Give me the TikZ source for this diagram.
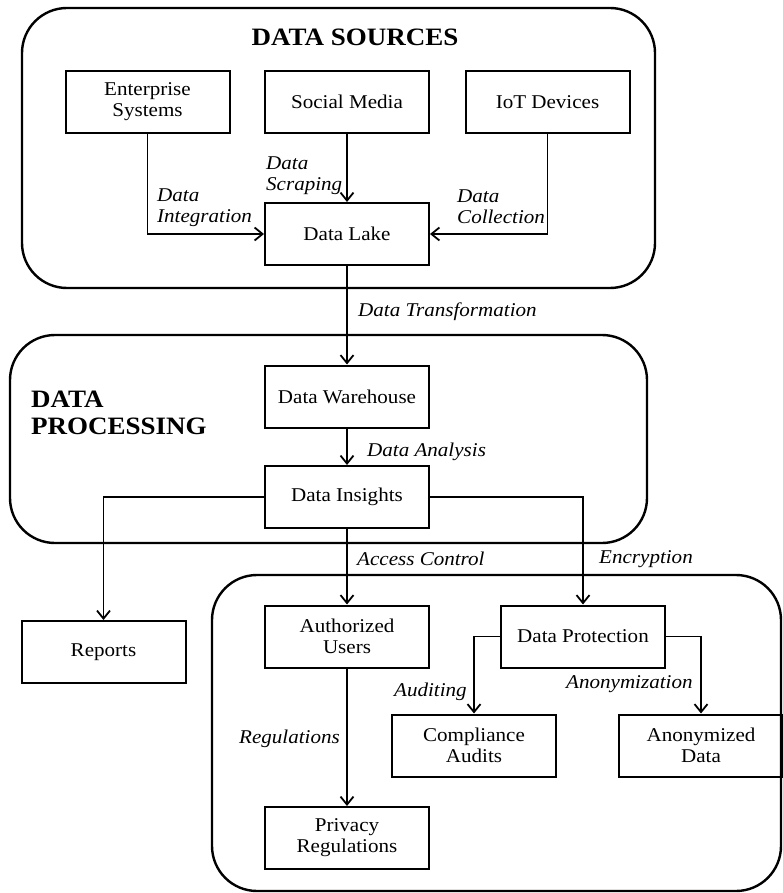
\documentclass[tikz,border=0pt]{standalone}
\usepackage{fontspec}
\setmainfont{Liberation Serif}[FakeStretch=1.08]
\usetikzlibrary{arrows.meta, positioning}
\tikzset{
    every node/.style={inner sep=1pt},
    box/.style={draw, line width=2pt, minimum width=164pt, minimum height=62pt,
        align=center, font=\fontsize{19.5}{21}\selectfont},
    lbl/.style={anchor=west, align=left, font=\fontsize{19.5}{21}\selectfont\itshape},
    ttl/.style={font=\fontsize{25}{27}\selectfont\bfseries, align=left},
    grp/.style={line width=2.4pt, rounded corners=45pt},
    arr/.style={line width=1.8pt, -{Straight Barb[length=8pt, width=13pt, line width=1.8pt]}}
}
\begin{document}
\begin{tikzpicture}[x=1pt, y=-1pt]
                \useasboundingbox (0,0) rectangle (782,893);

                % groups
                \draw[grp] (22,8) rectangle (655,288);
                \draw[grp] (10,335) rectangle (647,543);
                \draw[grp] (212,575) rectangle (781,891);

                \node[ttl] (tsrc) at (355,37) {DATA SOURCES};
                \node[ttl, anchor=west] (tproc) at (30,413) {DATA\\PROCESSING};

                \node[box] (ent) at (147.5,102) {Enterprise\\Systems};
                \node[box] (soc) at (347,102) {Social Media};
                \node[box] (iot) at (547.5,102) {IoT Devices};
                \node[box] (lake) at (347,234) {Data Lake};
                \node[box] (wh) at (347,396.5) {Data Warehouse};
                \node[box] (ins) at (347,497) {Data Insights};
                \node[box] (rep) at (103.5,652) {Reports};
                \node[box] (auth) at (347,636.5) {Authorized\\Users};
                \node[box] (prot) at (583,636.5) {Data Protection};
                \node[box] (comp) at (474,745.5) {Compliance\\Audits};
                \node[box] (anon) at (701,745.5) {Anonymized\\Data};
                \node[box] (priv) at (347,838) {Privacy\\Regulations};

                \draw[arr] (ent.south) |- (lake.west);
                \draw[arr] (soc) -- (lake);
                \draw[arr] (iot.south) |- (lake.east);
                \draw[arr] (lake) -- (wh);
                \draw[arr] (wh) -- (ins);
                \draw[arr] (ins.west) -| (rep.north);
                \draw[arr] (ins.east) -| (prot.north);
                \draw[arr] (ins) -- (auth);
                \draw[arr] (prot.west) -| (comp.north);
                \draw[arr] (prot.east) -| (anon.north);
                \draw[arr] (auth) -- (priv);

                % edge labels
                \node[lbl] (lscr) at (265,176) {Data\\Scraping};
                \node[lbl] (lint) at (156,208) {Data\\Integration};
                \node[lbl] (lcol) at (456,207) {Data\\Collection};
                \node[lbl] (ltra) at (357,312) {Data Transformation};
                \node[lbl] (lana) at (366,452) {Data Analysis};
                \node[lbl] (lacc) at (356,559) {Access Control};
                \node[lbl] (lenc) at (598,559) {Encryption};
                \node[lbl] (laud) at (393,692) {Auditing};
                \node[lbl] (lano) at (565,684) {Anonymization};
                \node[lbl] (lreg) at (238,739) {Regulations};
            \end{tikzpicture}
\end{document}
